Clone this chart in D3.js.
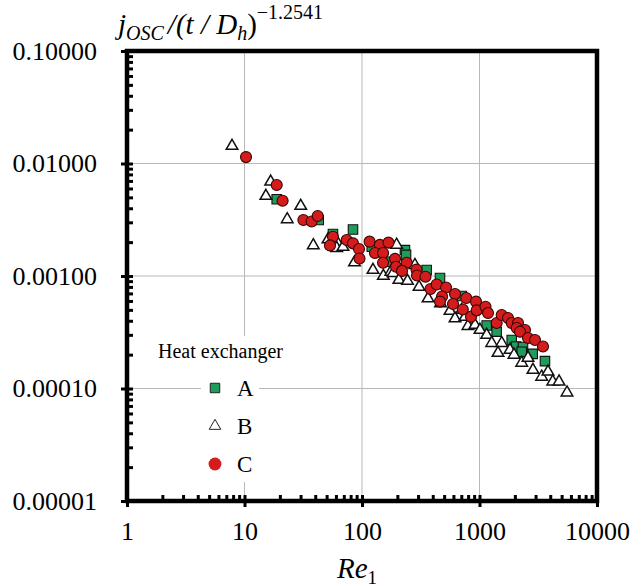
<!DOCTYPE html>
<html>
<head>
<meta charset="utf-8">
<script src="https://cdn.jsdelivr.net/npm/d3@7"></script>
<style>
  body { margin: 0; background: #fff; }
  svg { display: block; font-family: "Liberation Serif", "Times New Roman", serif; }
  svg text { font-family: "Liberation Serif", "Times New Roman", serif; }
</style>
</head>
<body>
<svg id="chart" width="643" height="588"></svg>
<script>
// axis ticks
var xTicks = [1, 10, 100, 1000, 10000];
var yTicks = [0.00001, 0.0001, 0.001, 0.01, 0.1];
var seriesNames = ['A', 'B', 'C'];

// [Re1, j_osc / (t/Dh)^-1.2541]
var seriesA = [
  [18.8, 0.00481], [42.8, 0.00315], [56.6, 0.00236], [83.8, 0.00259], [121, 0.00182],
  [173, 0.00134], [232, 0.00170], [237, 0.00154], [355, 0.00113], [461, 0.00096],
  [706, 0.000664], [1151, 0.000363], [1400, 0.000320], [1880, 0.000270], [2046, 0.000236],
  [2345, 0.000234], [2287, 0.000212], [2837, 0.000203], [3607, 0.000175]
];

var seriesB = [
  [7.83, 0.0143], [16.7, 0.00689], [15.2, 0.00514], [30.1, 0.00419], [23.1, 0.00319],
  [38.5, 0.00187], [51.4, 0.00211], [61.3, 0.00200], [60.9, 0.00177], [68.9, 0.00181],
  [86.3, 0.00132], [124, 0.00113], [152, 0.00100], [176, 0.00109], [197, 0.00189],
  [184, 0.00106], [206, 0.000921], [244, 0.000903], [282, 0.00125], [306, 0.000798],
  [365, 0.000631], [466, 0.000570], [561, 0.000489], [619, 0.000419], [753, 0.000432],
  [706, 0.000499], [798, 0.000359], [916, 0.000367], [1010, 0.000331], [1151, 0.000299],
  [1270, 0.000253], [1545, 0.000253], [1437, 0.000207], [1818, 0.000220], [1966, 0.000199],
  [2287, 0.000169], [2588, 0.000187], [2852, 0.000146], [3382, 0.000127], [3828, 0.000141],
  [4198, 0.000115], [4753, 0.000115], [5555, 0.0000919]
];

var seriesC = [
  [10.3, 0.0114], [18.8, 0.00645], [21.1, 0.00467], [31.7, 0.00315], [37.3, 0.00305],
  [42.0, 0.00341], [56.6, 0.00223], [53.4, 0.00187], [74.1, 0.00209], [83.8, 0.00195],
  [94.3, 0.00174], [95.2, 0.00143], [116, 0.00202], [142, 0.00189], [168, 0.00198],
  [129, 0.00160], [151, 0.00160], [151, 0.00131], [191, 0.00142], [240, 0.00131],
  [195, 0.00121], [219, 0.00111], [291, 0.00114], [294, 0.00101], [347, 0.000984],
  [383, 0.000766], [432, 0.000840], [519, 0.000791], [480, 0.000658], [461, 0.000592],
  [619, 0.000692], [595, 0.000564], [771, 0.000637], [721, 0.000504], [934, 0.000592],
  [847, 0.000435], [947, 0.000495], [1125, 0.000533], [1181, 0.000469], [1400, 0.000382],
  [1545, 0.000450], [1748, 0.000423], [1880, 0.000382], [2128, 0.000382], [2073, 0.000345],
  [2438, 0.000331], [2212, 0.000320], [2588, 0.000281], [2966, 0.000270], [3470, 0.000236]
];

var svg = d3.select('#chart');
var plot = { left: 127, right: 597, top: 51, bottom: 501 };

var x = d3.scaleLog().domain([1, 10000]).range([plot.left, plot.right]);
var y = d3.scaleLog().domain([0.00001, 0.1]).range([plot.bottom, plot.top]);

// minor ticks 2..9 of every decade
function minorTicks(majors) {
  var out = [];
  majors.slice(0, -1).forEach(function(m) {
    for (var k = 2; k < 10; k++) out.push(m * k);
  });
  return out;
}

// grid
var grid = svg.append('g').attr('class', 'grid');
grid.selectAll('line.gx')
  .data(xTicks.slice(1, -1))
  .enter().append('line')
  .attr('class', 'gx')
  .attr('x1', function(d) { return x(d); })
  .attr('x2', function(d) { return x(d); })
  .attr('y1', plot.top).attr('y2', plot.bottom)
  .attr('stroke', '#b8b8b8').attr('stroke-width', 1);

grid.selectAll('line.gy')
  .data(yTicks.slice(1, -1))
  .enter().append('line')
  .attr('class', 'gy')
  .attr('y1', function(d) { return y(d); })
  .attr('y2', function(d) { return y(d); })
  .attr('x1', plot.left).attr('x2', plot.right)
  .attr('stroke', '#b8b8b8').attr('stroke-width', 1);

// axes
var xAxis = svg.append('g')
  .attr('transform', 'translate(0,' + plot.bottom + ')')
  .call(d3.axisBottom(x).tickValues(xTicks).tickFormat(d3.format('d'))
    .tickSizeInner(6).tickSizeOuter(0).tickPadding(15));

var xMinor = svg.append('g')
  .attr('transform', 'translate(0,' + plot.bottom + ')')
  .call(d3.axisBottom(x).tickValues(minorTicks(xTicks)).tickFormat('')
    .tickSizeInner(-6).tickSizeOuter(0));

var yAxis = svg.append('g')
  .attr('transform', 'translate(' + plot.left + ',0)')
  .call(d3.axisLeft(y).tickValues(yTicks).tickFormat(d3.format('.5f'))
    .tickSizeInner(6).tickSizeOuter(0).tickPadding(24));

var yMinor = svg.append('g')
  .attr('transform', 'translate(' + plot.left + ',0)')
  .call(d3.axisLeft(y).tickValues(minorTicks(yTicks)).tickFormat('')
    .tickSizeInner(-6).tickSizeOuter(0));

// majors cross the axis line on both sides
xAxis.selectAll('.tick line').attr('y1', -6);
yAxis.selectAll('.tick line').attr('x1', 6);

[xAxis, xMinor, yAxis, yMinor].forEach(function(g) {
  g.attr('font-family', null).attr('font-size', null);
  g.select('.domain').remove();
  g.selectAll('.tick line').attr('stroke', '#000').attr('stroke-width', 3);
  g.selectAll('.tick text')
    .attr('fill', '#000')
    .attr('font-size', 26);
});

// frame
svg.append('rect')
  .attr('x', plot.left).attr('y', plot.top)
  .attr('width', plot.right - plot.left).attr('height', plot.bottom - plot.top)
  .attr('fill', 'none').attr('stroke', '#000').attr('stroke-width', 4.5);

// markers
var fills = { A: '#1f9b5b', B: '#ffffff', C: '#d41c1c' };
var shapes = { A: d3.symbolSquare, B: d3.symbolTriangle, C: d3.symbolCircle };
var sizes = { A: 90, B: 58, C: 95 };
var data = { A: seriesA, B: seriesB, C: seriesC };

seriesNames.forEach(function(name) {
  svg.append('g').selectAll('path')
    .data(data[name])
    .enter().append('path')
    .attr('d', d3.symbol().type(shapes[name]).size(sizes[name]))
    .attr('transform', function(d) { return 'translate(' + x(d[0]) + ',' + y(d[1]) + ')'; })
    .attr('fill', fills[name])
    .attr('stroke', name === 'C' ? '#3a0505' : '#111')
    .attr('stroke-width', name === 'B' ? 1.5 : 1.1);
});

// legend: title box and entries box are separate, the 0.0001 grid line shows between
var legend = svg.append('g');
legend.append('rect')
  .attr('x', 154).attr('y', 336).attr('width', 128).attr('height', 30)
  .attr('fill', '#fff');
legend.append('rect')
  .attr('x', 201).attr('y', 366).attr('width', 58).attr('height', 116)
  .attr('fill', '#fff');
legend.append('text')
  .attr('x', 158).attr('y', 358)
  .attr('font-size', 20)
  .text('Heat exchanger');

var items = legend.selectAll('g.item')
  .data(seriesNames)
  .enter().append('g')
  .attr('class', 'item')
  .attr('transform', function(d, i) { return 'translate(215,' + (388 + i * 38) + ')'; });

items.append('path')
  .attr('d', function(d) { return d3.symbol().type(shapes[d]).size(d === 'C' ? 130 : sizes[d])(); })
  .attr('fill', function(d) { return fills[d]; })
  .attr('stroke', function(d) { return d === 'C' ? 'none' : '#222'; })
  .attr('stroke-width', 1);

items.append('text')
  .attr('x', 22).attr('dy', '0.35em')
  .attr('font-size', 23)
  .text(function(d) { return d; });

// axis titles
var yTitle = svg.append('text')
  .attr('x', 118).attr('y', 34)
  .attr('font-size', 29)
  .style('font-style', 'italic');
yTitle.append('tspan').text('j');
yTitle.append('tspan').attr('dy', 6).attr('font-size', 20).text('OSC');
yTitle.append('tspan').attr('dy', -6).attr('dx', 4).text('/(t / D');
yTitle.append('tspan').attr('dy', 6).attr('font-size', 20).text('h');
yTitle.append('tspan').attr('dy', -6).style('font-style', 'normal').text(')');
yTitle.append('tspan').attr('dy', -15).attr('font-size', 20).style('font-style', 'normal').text('\u22121.2541');

var xTitle = svg.append('text')
  .attr('x', 337).attr('y', 578)
  .attr('font-size', 29)
  .style('font-style', 'italic');
xTitle.append('tspan').text('Re');
xTitle.append('tspan').attr('dy', 6).attr('font-size', 19).style('font-style', 'normal').text('1');
</script>
</body>
</html>
